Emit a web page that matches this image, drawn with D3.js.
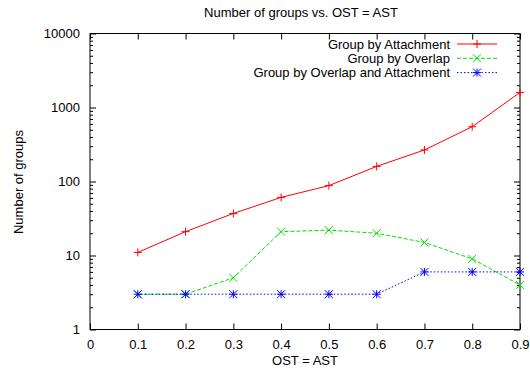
<!DOCTYPE html>
<html>
<head>
<meta charset="utf-8">
<script src="https://cdn.jsdelivr.net/npm/d3@7"></script>
<style>
  html, body { margin: 0; padding: 0; background: #fff; }
  svg { display: block; font-family: "Liberation Sans", Arial, sans-serif; }
</style>
</head>
<body>
<svg id="chart" width="530" height="372"></svg>
<script>
// Threshold values (OST = AST)
const thresholds = [0.1, 0.2, 0.3, 0.4, 0.5, 0.6, 0.7, 0.8, 0.9];
// Number of groups per grouping method
const byAttachment = [11, 21, 37, 61, 88, 160, 267, 550, 1600];
const byOverlap = [3, 3, 5, 21, 22, 20, 15, 9, 4];
const byOverlapAndAttachment = [3, 3, 3, 3, 3, 3, 6, 6, 6];
const seriesNames = ["Group by Attachment", "Group by Overlap", "Group by Overlap and Attachment"];
const xTicks = [0, 0.1, 0.2, 0.3, 0.4, 0.5, 0.6, 0.7, 0.8, 0.9];
const yTicks = [1, 10, 100, 1000, 10000];

const svg = d3.select("#chart");
const fontSize = 13;
const plotLeft = 90, plotRight = 520, plotTop = 33.5, plotBottom = 329.5;

const x = d3.scaleLinear().domain([0, 0.9]).range([plotLeft, plotRight]);
const y = d3.scaleLog().domain([1, 10000]).range([plotBottom, plotTop]);

const series = [
  { name: seriesNames[0], values: byAttachment, color: "#ff0000", dash: null, symbol: "plus" },
  { name: seriesNames[1], values: byOverlap, color: "#00e000", dash: "4,2", symbol: "cross" },
  { name: seriesNames[2], values: byOverlapAndAttachment, color: "#0000ff", dash: "1.5,2", symbol: "star" }
];

// Title
svg.append("text").attr("x", 301).attr("y", 17).attr("text-anchor", "middle")
  .attr("font-size", fontSize).text("Number of groups vs. OST = AST");

// Axis labels
svg.append("text").attr("x", 305).attr("y", 365).attr("text-anchor", "middle")
  .attr("font-size", fontSize).text("OST = AST");
svg.append("text").attr("transform", "translate(23,182) rotate(-90)").attr("text-anchor", "middle")
  .attr("font-size", fontSize).text("Number of groups");

// Axes with inward ticks, mirrored on top and right
const majorLen = 6, minorLen = 3;
const minorVals = [];
for (let d = 1; d < 10000; d *= 10) for (let k = 2; k <= 9; k++) minorVals.push(d * k);

function styleAxis(g) {
  g.select(".domain").remove();
  g.selectAll("line").attr("stroke", "#000").attr("stroke-width", 1);
  g.selectAll("text").attr("font-size", fontSize).attr("fill", "#000")
    .attr("font-family", "Liberation Sans, Arial, sans-serif");
}

// bottom
svg.append("g").attr("transform", `translate(0,${plotBottom})`)
  .call(d3.axisBottom(x).tickValues(xTicks).tickFormat(d3.format("")).tickSizeInner(-majorLen).tickSizeOuter(0).tickPadding(10))
  .call(styleAxis);
// top
svg.append("g").attr("transform", `translate(0,${plotTop})`)
  .call(d3.axisTop(x).tickValues(xTicks).tickFormat("").tickSizeInner(-majorLen).tickSizeOuter(0))
  .call(styleAxis);
// left
svg.append("g").attr("transform", `translate(${plotLeft},0)`)
  .call(d3.axisLeft(y).tickValues(yTicks).tickFormat(d3.format("d")).tickSizeInner(-majorLen).tickSizeOuter(0).tickPadding(10))
  .call(styleAxis);
svg.append("g").attr("transform", `translate(${plotLeft},0)`)
  .call(d3.axisLeft(y).tickValues(minorVals).tickFormat("").tickSizeInner(-minorLen).tickSizeOuter(0))
  .call(styleAxis);
// right
svg.append("g").attr("transform", `translate(${plotRight},0)`)
  .call(d3.axisRight(y).tickValues(yTicks).tickFormat("").tickSizeInner(-majorLen).tickSizeOuter(0))
  .call(styleAxis);
svg.append("g").attr("transform", `translate(${plotRight},0)`)
  .call(d3.axisRight(y).tickValues(minorVals).tickFormat("").tickSizeInner(-minorLen).tickSizeOuter(0))
  .call(styleAxis);

// frame
svg.append("rect").attr("x", plotLeft).attr("y", plotTop).attr("width", plotRight - plotLeft).attr("height", plotBottom - plotTop)
  .attr("fill", "none").attr("stroke", "#000").attr("stroke-width", 1);

// point symbols
function drawSymbol(g, type, cx, cy, color) {
  const s = 4;
  const seg = (x1, y1, x2, y2) => g.append("line").attr("x1", cx + x1).attr("y1", cy + y1)
    .attr("x2", cx + x2).attr("y2", cy + y2).attr("stroke", color).attr("stroke-width", 1);
  if (type === "plus" || type === "star") { seg(-s, 0, s, 0); seg(0, -s, 0, s); }
  if (type === "cross" || type === "star") { seg(-s, -s, s, s); seg(-s, s, s, -s); }
}

const line = d3.line().x(d => x(d[0])).y(d => y(d[1]));
const plot = svg.append("g");
series.forEach(s => {
  const pts = thresholds.map((t, i) => [t, s.values[i]]);
  plot.append("path").attr("d", line(pts)).attr("fill", "none").attr("stroke", s.color)
    .attr("stroke-width", 1).attr("stroke-dasharray", s.dash);
  pts.forEach(p => drawSymbol(plot, s.symbol, x(p[0]), y(p[1]), s.color));
});

// legend
const legend = svg.append("g");
series.forEach((s, i) => {
  const ly = 44 + i * 14.3;
  legend.append("text").attr("x", 450).attr("y", ly).attr("dy", "0.35em").attr("text-anchor", "end")
    .attr("font-size", fontSize).text(s.name);
  legend.append("line").attr("x1", 457).attr("x2", 497).attr("y1", ly).attr("y2", ly)
    .attr("stroke", s.color).attr("stroke-width", 1).attr("stroke-dasharray", s.dash);
  drawSymbol(legend, s.symbol, 477, ly, s.color);
});
</script>
</body>
</html>
